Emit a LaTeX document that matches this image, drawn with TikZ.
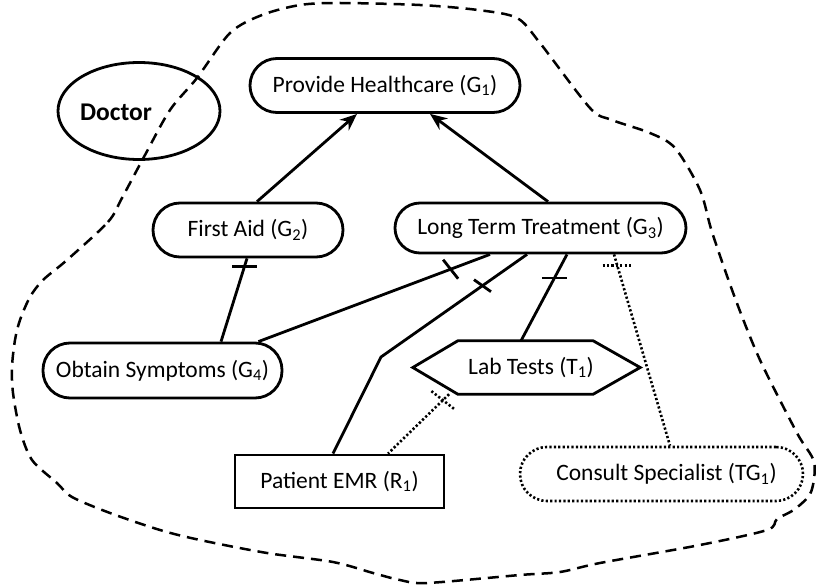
\documentclass[tikz,border=0pt]{standalone}
\usepackage{fontspec}
\setmainfont{Carlito}
\usetikzlibrary{arrows.meta,calc,shapes.geometric}
\begin{document}
\begin{tikzpicture}[x=1pt,y=-1pt,
  every node/.style={font=\fontsize{23.5}{28}\selectfont, inner sep=0pt},
  goal/.style={draw, line width=2.8pt, rounded corners=27pt, minimum height=54pt},
  tgoal/.style={draw, line width=2.6pt, rounded corners=27pt, minimum height=54pt, dash pattern=on 2.2pt off 2.2pt},
  res/.style={draw, line width=2.8pt, minimum height=53pt, minimum width=209pt},
  link/.style={line width=2.8pt},
  dlink/.style={line width=2.6pt, dash pattern=on 2.2pt off 2.2pt},
  arr/.style={line width=2.8pt, -{Stealth[length=17pt,width=14pt]}},
  bound/.style={line width=2.5pt, dash pattern=on 11pt off 7pt}
]
\useasboundingbox (0,0) rectangle (817,586);

% boundary
\draw[bound] plot[smooth cycle, tension=0.5] coordinates {
(67,260) (108,222) (122,198) (145,155) (170,110) (197,78) (230,33) (262,15) (300,5) (340,3) (420,5) (478,10) (517,18) (540,43) (590,108) (612,120) (650,133) (675,148) (700,190) (712,232) (735,298) (760,360) (797,433) (814,462) (811,492) (795,509) (777,519) (767,530) (700,545) (600,563) (560,572) (520,575) (427,583) (400,580) (373,573) (333,562) (267,553) (200,540) (160,530) (110,513) (72,497) (57,483) (32,460) (20,430) (13,393) (12,367) (15,340) (20,320) (30,297) (43,280)};

% actor
\node[draw, ellipse, line width=2.8pt, minimum width=162pt, minimum height=97pt] (doctor) at (139,111) {};
\node[font=\fontsize{25.5}{30}\selectfont\bfseries] (doctorlbl) at (116,112) {Doctor};

% elements
\node[goal, minimum width=270pt] (G1) at (385,85.5) {Provide Healthcare (G\textsubscript{1})};
\node[goal, minimum width=190pt] (G2) at (248,230) {First Aid (G\textsubscript{2})};
\node[goal, minimum width=291pt, minimum height=50pt, rounded corners=25pt] (G3) at (540.5,228) {Long Term Treatment (G\textsubscript{3})};
\node[goal, minimum width=239pt, minimum height=55pt] (G4) at (162.5,370.5) {Obtain Symptoms (G\textsubscript{4})};
\node[res] (R1) at (339.5,481.5) {Patient EMR (R\textsubscript{1})};
\node[minimum width=227pt, minimum height=53pt] (T1) at (526.5,367.5) {\hspace*{9pt}Lab Tests (T\textsubscript{1})};
\draw[link] (T1.west) -- ([xshift=45pt]T1.north west) -- ([xshift=-47pt]T1.north east) -- (T1.east) -- ([xshift=-47pt]T1.south east) -- ([xshift=45pt]T1.south west) -- cycle;
\node[tgoal, minimum width=283pt] (TG1) at (661.5,474) {\hspace*{10pt}Consult Specialist (TG\textsubscript{1})};

% contributions to G1
\draw[arr] ([xshift=9pt]G2.north) -- ([xshift=-28pt]G1.south);
\draw[arr] ([xshift=7.5pt]G3.north) -- ([xshift=45pt]G1.south);

% G2 - G4
\draw[link] ([xshift=-1pt]G2.south) -- ([xshift=58.5pt]G4.north) coordinate[pos=0.093] (m1);
\draw[link] ([xshift=-12.5pt]m1) -- ([xshift=12.5pt]m1);

% G3 - G4
\draw[link] ([xshift=-50.5pt]G3.south) -- ([xshift=-25pt]G4.north east) coordinate[pos=0.17] (m2);
\draw[link] ($(m2)+(-7.5,-9.5)$) -- ($(m2)+(7.5,9.5)$);

% G3 - R1
\coordinate (bend) at (381,357);
\draw[link] ([xshift=-13.5pt]G3.south) -- (bend) coordinate[pos=0.305] (m3) -- ([xshift=-6.5pt]R1.north);
\draw[link] ($(m3)+(-8.5,-6)$) -- ($(m3)+(8.5,6)$);

% G3 - T1
\draw[link] ([xshift=26.5pt]G3.south) -- ([xshift=-5.5pt]T1.north) coordinate[pos=0.273] (m4);
\draw[link] ([xshift=-12.5pt]m4) -- ([xshift=12.5pt]m4);

% T1 - R1 dotted
\draw[dlink] ([xshift=-77.5pt]T1.south) -- ([xshift=48.5pt]R1.north) coordinate[pos=0.1] (m5);
\draw[dlink] ($(m5)+(-11.5,-9)$) -- ($(m5)+(11.5,9)$);

% G3 - TG1 dotted
\draw[dlink] ([xshift=73.5pt]G3.south) -- ([xshift=8.5pt]TG1.north) coordinate[pos=0.057] (m6);
\draw[dlink] ([xshift=-14.5pt]m6) -- ([xshift=14.5pt]m6);
\end{tikzpicture}
\end{document}
